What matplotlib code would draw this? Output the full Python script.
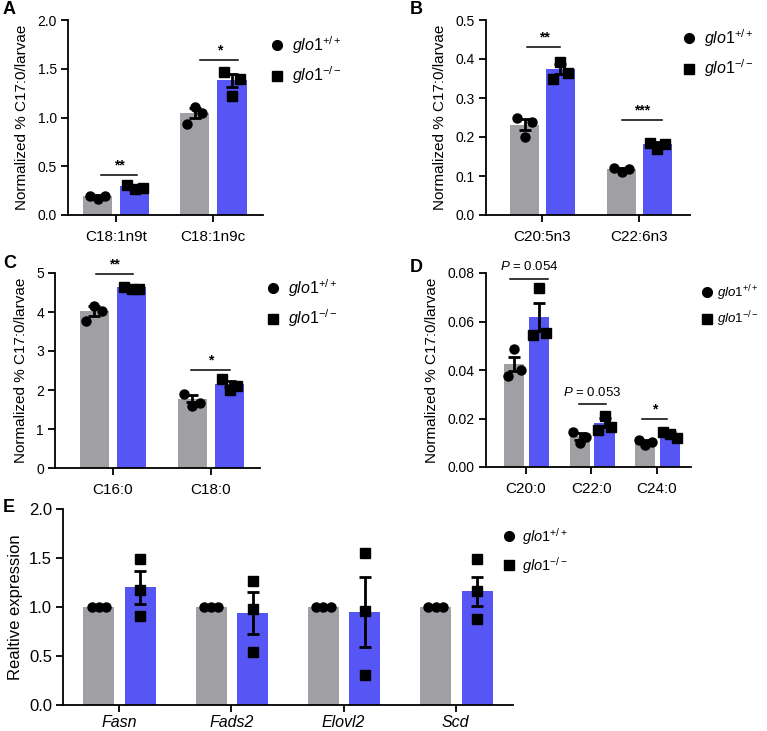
import matplotlib
matplotlib.use("Agg")
import matplotlib.pyplot as plt
from matplotlib.lines import Line2D
import numpy as np

plt.rcParams['font.family'] = ['Liberation Sans', 'DejaVu Sans']
plt.rcParams['mathtext.fontset'] = 'custom'
plt.rcParams['mathtext.it'] = 'Liberation Sans:italic'
plt.rcParams['mathtext.rm'] = 'Liberation Sans'
plt.rcParams['mathtext.default'] = 'it'

GRAY = '#a0a0a4'
BLUE = '#5656f4'

# ---------------- data ----------------
a_cats = ['C18:1n9t', 'C18:1n9c']
a_wt_mean = [0.20, 1.05]
a_wt_sem = [0.01, 0.05]
a_wt_pts = [[0.20, 0.165, 0.19], [0.93, 1.105, 1.045]]
a_ko_mean = [0.295, 1.38]
a_ko_sem = [0.013, 0.07]
a_ko_pts = [[0.31, 0.265, 0.28], [1.47, 1.22, 1.39]]
a_sig = ['**', '*']
a_sig_y = [0.415, 1.59]

b_cats = ['C20:5n3', 'C22:6n3']
b_wt_mean = [0.232, 0.118]
b_wt_sem = [0.015, 0.003]
b_wt_pts = [[0.248, 0.199, 0.239], [0.12, 0.109, 0.118]]
b_ko_mean = [0.3735, 0.181]
b_ko_sem = [0.013, 0.005]
b_ko_pts = [[0.348, 0.393, 0.365], [0.185, 0.168, 0.182]]
b_sig = ['**', '***']
b_sig_y = [0.432, 0.244]

c_cats = ['C16:0', 'C18:0']
c_wt_mean = [4.03, 1.78]
c_wt_sem = [0.12, 0.09]
c_wt_pts = [[3.76, 4.16, 4.03], [1.90, 1.60, 1.67]]
c_ko_mean = [4.64, 2.16]
c_ko_sem = [0.03, 0.08]
c_ko_pts = [[4.64, 4.58, 4.60], [2.28, 2.00, 2.11]]
c_sig = ['**', '*']
c_sig_y = [4.98, 2.52]

d_cats = ['C20:0', 'C22:0', 'C24:0']
d_wt_mean = [0.0425, 0.0126, 0.0107]
d_wt_sem = [0.003, 0.0013, 0.0006]
d_wt_pts = [[0.0375, 0.0485, 0.040], [0.0144, 0.0099, 0.0124], [0.0113, 0.0092, 0.0103]]
d_ko_mean = [0.0619, 0.0183, 0.0137]
d_ko_sem = [0.0058, 0.0018, 0.0008]
d_ko_pts = [[0.0543, 0.0738, 0.0554], [0.0151, 0.0210, 0.0165], [0.0146, 0.0138, 0.0121]]
d_sig = ['$P$ = 0.054', '$P$ = 0.053', '*']
d_sig_y = [0.0777, 0.0258, 0.020]

e_cats = ['Fasn', 'Fads2', 'Elovl2', 'Scd']
e_wt_mean = [1.0, 1.0, 1.0, 1.0]
e_wt_pts = [[1.0, 1.0, 1.0]] * 4
e_ko_mean = [1.20, 0.939, 0.949, 1.16]
e_ko_sem = [0.167, 0.21, 0.36, 0.149]
e_ko_pts = [[1.485, 1.17, 0.905], [1.263, 0.98, 0.539], [1.553, 0.956, 0.307], [1.49, 1.167, 0.877]]

legend_labels = [r'$\mathit{glo1}^{+/+}$', r'$\mathit{glo1}^{-/-}$']

W, H = 767, 731
fig = plt.figure(figsize=(W / 100, H / 100), dpi=100)


def px_axes(left, right, top, bottom):
    return fig.add_axes([left / W, 1 - bottom / H, (right - left) / W, (bottom - top) / H])


def style(ax, ylim, yticks, yfmt, xlim, cats, tick_fs=10, xfs=11, italic=False, xpad=6):
    ax.set_ylim(*ylim)
    ax.set_xlim(*xlim)
    ax.set_yticks(yticks)
    ax.set_yticklabels([yfmt.format(v) for v in yticks], fontsize=tick_fs)
    ax.set_xticks(range(len(cats)))
    ax.set_xticklabels(cats, fontsize=xfs, style='italic' if italic else 'normal')
    for s in ['top', 'right']:
        ax.spines[s].set_visible(False)
    for s in ['left', 'bottom']:
        ax.spines[s].set_linewidth(1.3)
    ax.tick_params(axis='both', width=1.3, length=5, direction='out')
    ax.tick_params(axis='x', pad=xpad)
    ax.tick_params(axis='y', pad=3)


def draw_group(ax, wt_mean, wt_sem, wt_pts, ko_mean, ko_sem, ko_pts, off_g, off_b, bw,
               jit_wt=0.08, jit_ko=0.08, ms=6.5):
    n = len(wt_mean)
    x = np.arange(n)
    ax.bar(x + off_g, wt_mean, bw, color=GRAY, zorder=1)
    ax.bar(x + off_b, ko_mean, bw, color=BLUE, zorder=1)
    if wt_sem is not None:
        ax.errorbar(x + off_g, wt_mean, yerr=wt_sem, fmt='none', ecolor='black',
                    elinewidth=2, capsize=4.5, capthick=2, zorder=3)
    ax.errorbar(x + off_b, ko_mean, yerr=ko_sem, fmt='none', ecolor='black',
                elinewidth=2, capsize=4.5, capthick=2, zorder=3)
    jw = np.array([-jit_wt, 0, jit_wt])
    jk = np.array([-jit_ko, 0, jit_ko])
    for i in range(n):
        ax.plot(i + off_g + jw, wt_pts[i], 'o', color='black', ms=ms, zorder=4)
        ax.plot(i + off_b + jk, ko_pts[i], 's', color='black', ms=ms, zorder=4)


def sig(ax, labels, ys, spans, fs=10):
    ylo, yhi = ax.get_ylim()
    for i, (lab, y) in enumerate(zip(labels, ys)):
        x0, x1 = spans[i]
        ax.plot([i + x0, i + x1], [y, y], color='black', lw=1.1, zorder=5, clip_on=False)
        is_p = lab.startswith('$P')
        ax.text(i + (x0 + x1) / 2, y + (yhi - ylo) * (0.012 if not is_p else 0.03), lab,
                ha='center', va='bottom', fontsize=fs if not is_p else 9.5,
                fontweight='bold' if not is_p else 'normal', clip_on=False)


def legend(ax, x, y, fs=11.5, tp=0.5):
    handles = [Line2D([], [], marker='o', color='black', ls='none', ms=7),
               Line2D([], [], marker='s', color='black', ls='none', ms=7)]
    ax.legend(handles, legend_labels, loc='upper left', bbox_to_anchor=(x / W, 1 - y / H),
              bbox_transform=fig.transFigure, frameon=False, fontsize=fs, handlelength=0.8,
              handletextpad=tp, labelspacing=0.55, borderpad=0, borderaxespad=0)


def panel_letter(x, y, s):
    fig.text(x / W, 1 - y / H, s, fontsize=13, fontweight='bold', ha='left', va='center')


ylab = 'Normalized % C17:0/larvae'

# ---- A ----
axA = px_axes(68, 263, 20, 215)
style(axA, (0, 2.0), [0, 0.5, 1.0, 1.5, 2.0], '{:.1f}', (-0.495, 1.515), a_cats)
draw_group(axA, a_wt_mean, a_wt_sem, a_wt_pts, a_ko_mean, a_ko_sem, a_ko_pts, -0.19, 0.195, 0.30)
sig(axA, a_sig, a_sig_y, [(-0.15, 0.22), (-0.13, 0.26)])
axA.set_ylabel(ylab, fontsize=11, labelpad=6)
legend(axA, 271, 34)
panel_letter(3, 10, 'A')

# ---- B ----
axB = px_axes(486, 690, 20, 215)
style(axB, (0, 0.5), [0, 0.1, 0.2, 0.3, 0.4, 0.5], '{:.1f}', (-0.577, 1.526), b_cats)
draw_group(axB, b_wt_mean, b_wt_sem, b_wt_pts, b_ko_mean, b_ko_sem, b_ko_pts, -0.18, 0.19, 0.30)
sig(axB, b_sig, b_sig_y, [(-0.15, 0.19), (-0.18, 0.24)])
axB.set_ylabel(ylab, fontsize=11, labelpad=6)
legend(axB, 683, 27)
panel_letter(410, 10, 'B')

# ---- C ----
axC = px_axes(55, 260, 273, 468)
style(axC, (0, 5), [0, 1, 2, 3, 4, 5], '{:.0f}', (-0.59, 1.5), c_cats)
draw_group(axC, c_wt_mean, c_wt_sem, c_wt_pts, c_ko_mean, c_ko_sem, c_ko_pts, -0.19, 0.19, 0.30)
sig(axC, c_sig, c_sig_y, [(-0.17, 0.21), (-0.20, 0.19)])
axC.set_ylabel(ylab, fontsize=11, labelpad=6)
legend(axC, 267, 277)
panel_letter(3, 263, 'C')

# ---- D ----
axD = px_axes(486, 691, 273, 467)
style(axD, (0, 0.08), [0, 0.02, 0.04, 0.06, 0.08], '{:.2f}', (-0.61, 2.52), d_cats)
draw_group(axD, d_wt_mean, d_wt_sem, d_wt_pts, d_ko_mean, d_ko_sem, d_ko_pts, -0.18, 0.20, 0.31,
           jit_wt=0.1, jit_ko=0.1)
sig(axD, d_sig, d_sig_y, [(-0.24, 0.34), (-0.19, 0.22), (-0.23, 0.15)])
axD.set_ylabel(ylab, fontsize=11, labelpad=6)
legend(axD, 702, 283, fs=9.5, tp=0.3)
panel_letter(410, 267, 'D')

# ---- E ----
axE = px_axes(63, 513, 509, 705)
style(axE, (0, 2.0), [0, 0.5, 1.0, 1.5, 2.0], '{:.1f}', (-0.5, 3.51), e_cats,
      tick_fs=12, xfs=11.5, italic=True, xpad=2)
draw_group(axE, e_wt_mean, None, e_wt_pts, e_ko_mean, e_ko_sem, e_ko_pts, -0.18, 0.19, 0.276,
           jit_wt=0.065, jit_ko=0.0)
axE.set_ylabel('Realtive expression', fontsize=12, labelpad=4)
legend(axE, 503, 526, fs=10.5)
panel_letter(3, 508, 'E')

fig.savefig('out.png', dpi=100)
